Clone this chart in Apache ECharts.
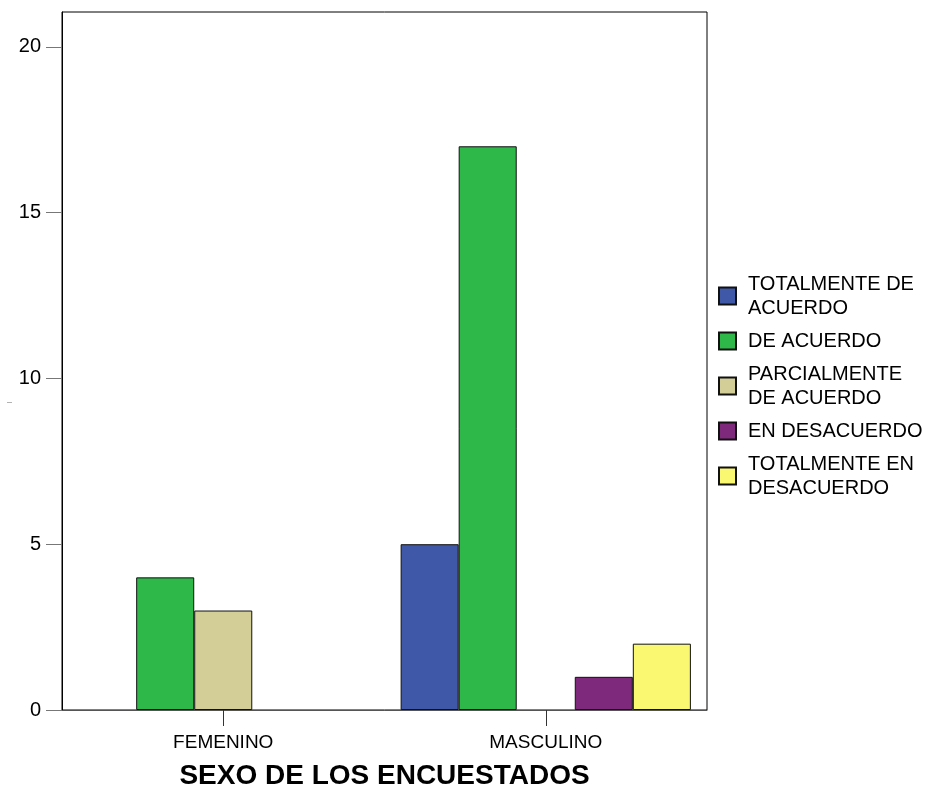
<!DOCTYPE html>
<html>
<head>
<meta charset="utf-8">
<script src="https://cdn.jsdelivr.net/npm/echarts@6/dist/echarts.min.js"></script>
<style>
  html, body { margin: 0; padding: 0; background: #ffffff; }
  #chart { width: 936px; height: 795px; }
</style>
</head>
<body>
<div id="chart"></div>
<script>
// Respondents' sex groups
const categories = ['FEMENINO', 'MASCULINO'];

// Answer levels (legend entries)
const answerNames = [
  'TOTALMENTE DE\nACUERDO',
  'DE ACUERDO',
  'PARCIALMENTE\nDE ACUERDO',
  'EN DESACUERDO',
  'TOTALMENTE EN\nDESACUERDO'
];

// Counts per group for each answer level (null = no respondents)
const totalmenteDeAcuerdo    = [null, 5];
const deAcuerdo              = [4, 17];
const parcialmenteDeAcuerdo  = [3, null];
const enDesacuerdo           = [null, 1];
const totalmenteEnDesacuerdo = [null, 2];

const yTicks = [0, 5, 10, 15, 20];

const seriesValues = [
  totalmenteDeAcuerdo,
  deAcuerdo,
  parcialmenteDeAcuerdo,
  enDesacuerdo,
  totalmenteEnDesacuerdo
];
const colors = ['#3F58A8', '#2EB84A', '#D3CE98', '#7E297C', '#FAF770'];

const FONT = 'Liberation Sans, Arial, sans-serif';

const dom = document.getElementById('chart');
const chart = echarts.init(dom, null, { renderer: 'canvas' });

chart.setOption({
  animation: false,
  backgroundColor: '#ffffff',
  grid: {
    left: 62, top: 12, right: 229, bottom: 80,
    show: true, borderColor: '#000000', borderWidth: 1, backgroundColor: 'transparent'
  },
  legend: {
    orient: 'vertical',
    left: 713,
    top: 267,
    itemWidth: 17,
    itemHeight: 17,
    itemGap: 9,
    icon: 'rect',
    textStyle: {
      fontFamily: FONT, fontSize: 20, color: '#000', lineHeight: 24,
      padding: [0, 0, 0, 7]
    },
    data: answerNames
  },
  xAxis: {
    type: 'category',
    data: categories,
    name: 'SEXO DE LOS ENCUESTADOS',
    nameLocation: 'middle',
    nameGap: 52,
    nameTextStyle: { fontFamily: FONT, fontSize: 28, fontWeight: 'bold', color: '#000' },
    axisLine: { show: true, lineStyle: { color: '#555', width: 1 } },
    axisTick: { show: true, alignWithLabel: true, length: 16, lineStyle: { color: '#333' } },
    axisLabel: { fontFamily: FONT, fontSize: 19, color: '#000', margin: 23 },
    splitLine: { show: false }
  },
  yAxis: {
    type: 'value',
    min: 0,
    max: 21.05,
    interval: 5,
    axisLine: { show: true, lineStyle: { color: '#000', width: 1 } },
    axisTick: { show: true, length: 16, customValues: yTicks, lineStyle: { color: '#777' } },
    axisLabel: { fontFamily: FONT, fontSize: 20, color: '#000', margin: 21, customValues: yTicks },
    splitLine: { show: false }
  },
  graphic: [
    {
      type: 'text',
      left: 7,
      top: 398,
      style: { text: '–', fontSize: 9, fill: '#888', fontFamily: FONT }
    }
  ],
  series: seriesValues.map((vals, i) => ({
    name: answerNames[i],
    type: 'bar',
    data: vals,
    barGap: '0%',
    barCategoryGap: '10%',
    itemStyle: { color: colors[i], borderColor: '#111', borderWidth: 1 }
  }))
});
</script>
</body>
</html>
